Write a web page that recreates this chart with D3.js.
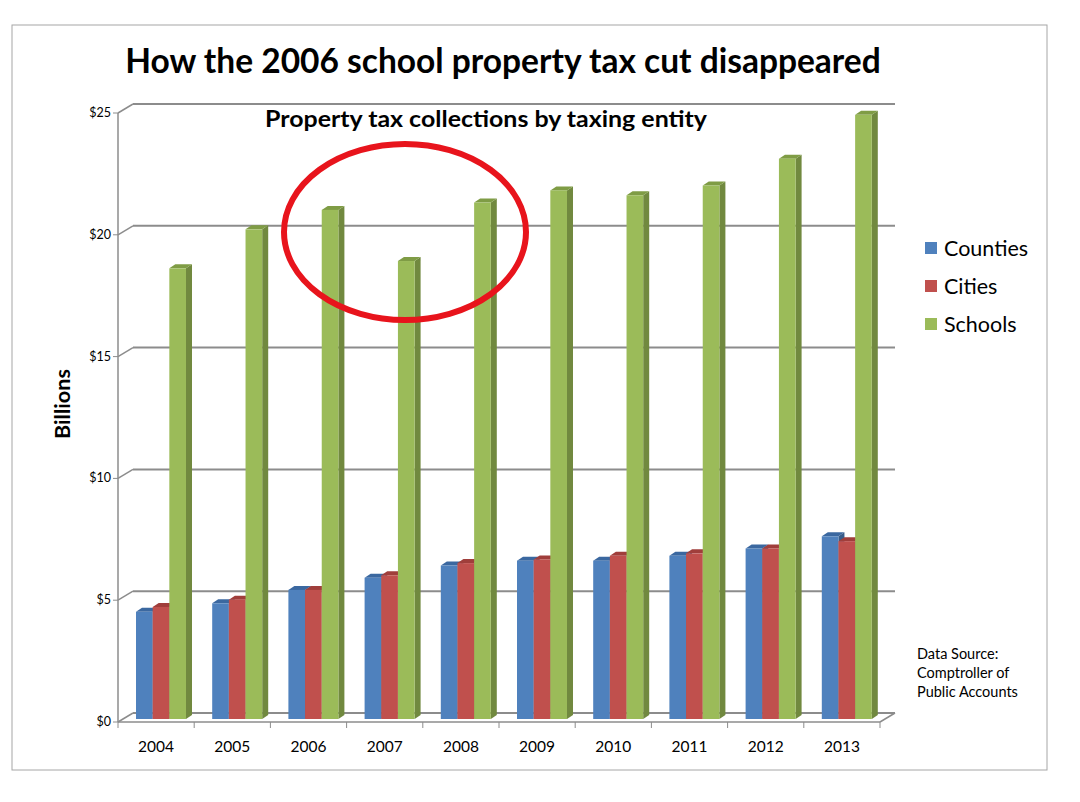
<!DOCTYPE html>
<html>
<head>
<meta charset="utf-8">
<script src="https://cdn.jsdelivr.net/npm/d3@7"></script>
<style>
  body { margin: 0; background: #fff; }
  text { font-family: Lato, "Open Sans", sans-serif; fill: #000; }
</style>
</head>
<body>
<svg id="chart" width="1080" height="802"></svg>
<script>
const years = ['2004','2005','2006','2007','2008','2009','2010','2011','2012','2013'];
const series = ['Counties','Cities','Schools'];
const counties = [4.4, 4.75, 5.3, 5.8, 6.3, 6.5, 6.5, 6.7, 7.0, 7.5];
const cities   = [4.6, 4.9, 5.3, 5.9, 6.4, 6.55, 6.7, 6.8, 7.0, 7.3];
const schools  = [18.5, 20.1, 20.9, 18.8, 21.2, 21.7, 21.5, 21.9, 23.0, 24.8];
const yTicks = [0, 5, 10, 15, 20, 25];
const colors = ['#4f81bd', '#c0504d', '#9bbb59'];
const sideColors = ['#385d8a', '#8c3836', '#71893f'];
const topColors = ['#3b68a0', '#a03e3b', '#7f9c45'];

const svg = d3.select('#chart');

// outer frame
svg.append('rect').attr('x', 12).attr('y', 25).attr('width', 1035).attr('height', 745)
  .attr('fill', 'none').attr('stroke', '#a6a6a6').attr('stroke-width', 1);

const x = d3.scaleBand().domain(years).range([118, 880]);
const y = d3.scaleLinear().domain([0, 25]).range([722, 113]);
const inner = d3.scaleBand().domain(series).range([18, 68]);
// depth offset of the back wall
const dx = 15, dy = -9;

// gridlines on the back wall and the left wall diagonals
const grid = svg.append('g');
yTicks.forEach(t => {
  grid.append('line').attr('x1', 118 + dx).attr('x2', 880 + dx)
    .attr('y1', y(t) + dy).attr('y2', y(t) + dy)
    .attr('stroke', '#8c8c8c').attr('stroke-width', 2);
  grid.append('line').attr('x1', 118).attr('x2', 118 + dx)
    .attr('y1', y(t)).attr('y2', y(t) + dy)
    .attr('stroke', '#8c8c8c').attr('stroke-width', 1.5);
  grid.append('line').attr('x1', 113).attr('x2', 118)
    .attr('y1', y(t)).attr('y2', y(t))
    .attr('stroke', '#8c8c8c').attr('stroke-width', 1);
  grid.append('text').attr('x', 111).attr('y', y(t) + 4)
    .attr('text-anchor', 'end').attr('font-size', 12.5).text('$' + t);
});
// left axis and floor front edge
grid.append('line').attr('x1', 118).attr('x2', 118).attr('y1', y(25)).attr('y2', y(0))
  .attr('stroke', '#8c8c8c').attr('stroke-width', 1.5);
grid.append('line').attr('x1', 118).attr('x2', 880).attr('y1', y(0)).attr('y2', y(0))
  .attr('stroke', '#8c8c8c').attr('stroke-width', 1.5);
grid.append('line').attr('x1', 880).attr('x2', 880 + dx).attr('y1', y(0)).attr('y2', y(0) + dy)
  .attr('stroke', '#8c8c8c').attr('stroke-width', 1.5);
// category ticks
d3.range(years.length + 1).forEach(i => {
  const xx = 118 + i * x.step();
  grid.append('line').attr('x1', xx).attr('x2', xx).attr('y1', y(0)).attr('y2', y(0) + 6)
    .attr('stroke', '#8c8c8c').attr('stroke-width', 1);
});
years.forEach(yr => {
  grid.append('text').attr('x', x(yr) + x.bandwidth() / 2).attr('y', 752)
    .attr('text-anchor', 'middle').attr('font-size', 15.5).text(yr);
});

// 3d bars
const rows = years.map((yr, i) => ({ year: yr, vals: [counties[i], cities[i], schools[i]] }));
const w = inner.bandwidth();
const bdx = 6, bdy = -4;
const lift = 3; // bars stand mid-way into the floor
const bars = svg.append('g');
rows.forEach(r => {
  series.forEach((s, j) => {
    const x0 = x(r.year) + inner(s);
    const yb = y(0) - lift;
    const yt = y(r.vals[j]) - lift;
    // side
    bars.append('path')
      .attr('d', `M${x0 + w},${yb} L${x0 + w + bdx},${yb + bdy} L${x0 + w + bdx},${yt + bdy} L${x0 + w},${yt} Z`)
      .attr('fill', sideColors[j]);
    // top
    bars.append('path')
      .attr('d', `M${x0},${yt} L${x0 + bdx},${yt + bdy} L${x0 + w + bdx},${yt + bdy} L${x0 + w},${yt} Z`)
      .attr('fill', topColors[j]);
    // front
    bars.append('rect').attr('x', x0).attr('y', yt).attr('width', w).attr('height', yb - yt)
      .attr('fill', colors[j]);
  });
});

// titles
svg.append('text').attr('x', 503).attr('y', 73).attr('text-anchor', 'middle')
  .attr('font-size', 33.5).attr('font-weight', 'bold').text('How the 2006 school property tax cut disappeared');
svg.append('text').attr('x', 265).attr('y', 127)
  .attr('font-size', 23).attr('font-weight', 'bold')
  .attr('textLength', 442).attr('lengthAdjust', 'spacingAndGlyphs')
  .text('Property tax collections by taxing entity');
svg.append('text').attr('transform', 'translate(70,439) rotate(-90)')
  .attr('font-size', 20).attr('font-weight', 'bold')
  .attr('textLength', 70).attr('lengthAdjust', 'spacingAndGlyphs').text('Billions');

// red circle annotation
svg.append('ellipse').attr('cx', 405).attr('cy', 232).attr('rx', 121).attr('ry', 88)
  .attr('fill', 'none').attr('stroke', '#e8141c').attr('stroke-width', 6);

// legend
const legend = svg.append('g');
series.forEach((s, j) => {
  legend.append('rect').attr('x', 925).attr('y', 242 + j * 38).attr('width', 12).attr('height', 12)
    .attr('fill', colors[j]);
  legend.append('text').attr('x', 944).attr('y', 256 + j * 38).attr('font-size', 21.5).text(s);
});

// source note
['Data Source:', 'Comptroller of', 'Public Accounts'].forEach((t, i) => {
  svg.append('text').attr('x', 917).attr('y', 659 + i * 19).attr('font-size', 14.5).text(t);
});
</script>
</body>
</html>
